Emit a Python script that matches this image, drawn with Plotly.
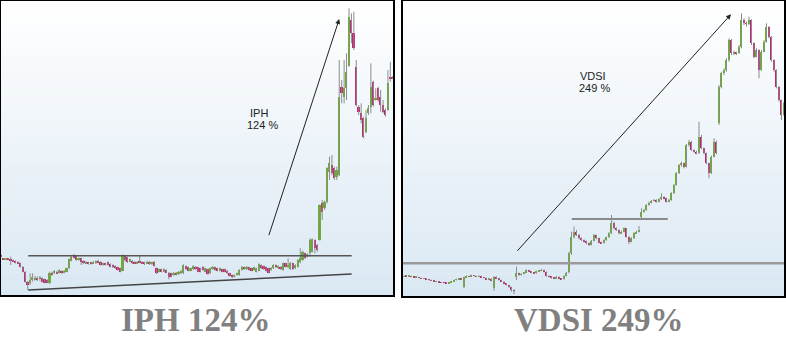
import plotly.graph_objects as go

# ---------------- IPH (left panel) ----------------
iph_open = [135,125,122,124,122,120,118,115,110,100,
            85,55,52,60,60,65,62,65,62,60,
            50,82,80,85,82,88,82,85,95,118,
            135,132,120,125,118,110,113,112,110,110,
            118,115,105,110,113,108,105,102,98,95,
            88,132,128,115,118,115,110,115,115,113,
            110,115,107,115,95,85,92,85,90,82,
            80,75,82,77,80,80,102,98,88,92,
            100,98,95,100,85,92,80,92,98,95,
            88,92,92,88,80,75,70,75,75,90,
            98,92,98,95,90,85,88,105,102,98,
            95,90,95,105,95,100,90,110,100,92,
            110,95,100,115,120,140,130,140,145,180,
            165,180,290,275,295,385,405,395,370,375,
            638,610,635,703,840,800,700,580,560,545,
            505,560,580,655,600,635,610,585,570,570,
            670,670]
iph_high = [136,126,126,125,130,121,119,116,112,102,
            87,57,80,80,72,70,72,68,64,62,
            85,85,90,88,92,90,90,97,124,132,
            138,134,127,127,120,117,115,114,117,119,
            121,117,112,112,116,110,107,104,100,97,
            137,135,130,124,120,117,117,135,117,115,
            118,117,115,117,97,94,94,94,92,84,
            82,84,84,87,90,107,104,100,97,104,
            102,100,97,102,97,94,97,102,100,97,
            97,94,94,90,82,77,77,82,92,102,
            100,102,100,97,100,97,110,107,104,100,
            97,99,107,107,104,102,112,112,125,114,
            112,107,122,155,148,142,140,185,184,182,
            168,287,300,298,398,430,435,400,400,720,
            660,720,740,875,860,865,720,585,590,550,
            570,585,710,658,635,640,630,600,575,690,
            715,672]
iph_low = [129,121,121,119,105,114,110,108,98,83,
           53,30,45,55,58,57,58,53,50,50,
           48,73,78,78,80,78,80,83,93,116,
           125,118,118,105,108,108,106,106,108,108,
           110,103,103,103,103,98,96,93,88,83,
           86,115,111,113,108,108,108,110,108,105,
           108,105,105,100,78,83,83,83,80,62,
           68,73,73,75,78,78,90,86,86,90,
           90,83,83,88,83,76,78,90,88,86,
           86,83,83,78,70,65,68,73,73,88,
           90,90,88,86,88,83,86,93,90,86,
           80,88,93,96,93,90,88,98,95,90,
           90,93,98,110,118,123,128,130,143,140,
           145,178,240,270,290,360,375,360,360,372,
           590,590,600,700,770,750,580,555,530,485,
           500,555,560,580,598,595,565,560,550,568,
           655,663]
iph_close = [130,122,125,120,118,115,112,110,100,85,
             55,45,60,70,65,60,68,55,52,52,
             82,75,88,80,90,80,88,95,122,130,
             127,120,125,115,110,115,108,108,115,117,
             112,105,110,105,105,100,98,95,90,85,
             135,120,113,122,110,110,115,112,110,107,
             115,107,113,102,80,92,85,92,82,70,
             70,82,75,85,88,105,92,88,95,102,
             92,85,85,90,95,78,95,100,90,88,
             95,85,85,80,72,68,75,80,90,98,
             92,100,90,88,98,95,108,95,92,88,
             82,97,105,98,102,92,110,100,105,112,
             92,105,120,125,145,125,138,180,182,155,
             150,285,265,295,395,410,380,365,390,610,
             622,635,685,850,800,755,585,565,540,490,
             545,575,640,585,605,600,585,565,555,650,
             665,665]

iph_resistance = 133
iph_support = [30, 78]
iph_lines_x = [11.2, 144.1]
iph_arrow = [109.9, 190, 139, 843]

# ---------------- VDSI (right panel) ----------------
vdsi_open = [70,72,71,72,70,68,69,66,64,65,
             62,60,58,55,56,53,52,51,50,52,
             56,60,62,64,40,68,72,70,74,72,
             70,72,68,66,62,64,35,70,65,60,
             55,50,45,38,30,70,80,75,78,82,
             90,86,82,80,86,88,90,85,72,70,
             66,65,70,64,62,72,85,140,190,205,
             195,185,180,176,170,165,178,195,185,172,
             170,180,188,200,230,215,210,200,205,215,
             190,175,185,200,205,250,265,270,285,292,
             298,300,295,302,310,305,295,300,320,345,
             380,405,410,400,465,475,450,445,440,490,
             455,440,410,380,430,475,530,640,680,690,
             720,780,740,742,740,760,840,830,828,840,
             770,730,750,690,745,775,820,790,720,690,
             640,600,555]
vdsi_high = [73,74,73,73,71,70,70,67,66,66,
             63,61,59,57,57,54,53,52,53,57,
             61,64,66,65,70,74,73,76,75,73,
             74,73,69,67,66,65,72,71,66,61,
             57,51,46,40,32,100,82,80,84,92,
             91,87,83,88,90,93,91,86,74,71,
             68,72,71,65,74,84,145,205,220,210,
             198,188,182,178,172,180,198,196,187,175,
             182,190,203,255,235,218,212,208,218,216,
             192,188,203,208,222,275,273,288,295,300,
             303,302,305,320,312,307,303,323,348,383,
             408,415,412,468,480,477,452,448,535,495,
             457,442,412,433,485,478,645,685,695,725,
             785,783,748,745,765,860,845,835,850,842,
             772,755,752,750,780,830,822,792,722,692,
             642,602,595]
vdsi_low = [69,70,70,69,67,67,65,63,63,61,
            59,57,54,54,52,51,50,49,49,51,
            55,59,61,60,36,67,69,69,71,69,
            69,67,65,61,61,56,28,64,59,54,
            49,44,37,25,18,60,73,74,77,81,
            84,80,78,79,85,87,83,70,68,64,
            63,64,62,60,61,71,80,135,185,192,
            182,177,173,167,162,164,176,182,170,168,
            169,178,186,198,212,207,197,198,203,187,
            168,173,183,198,203,245,262,268,283,290,
            296,292,293,300,302,292,293,298,318,343,
            378,400,395,398,460,447,442,437,438,452,
            437,407,365,378,428,437,525,635,675,685,
            715,735,735,735,738,755,825,820,825,765,
            725,728,665,688,743,772,785,715,685,635,
            595,540,553]
vdsi_close = [72,71,72,70,68,69,66,64,65,62,
              60,58,55,56,53,52,51,50,52,56,
              60,62,64,62,68,72,70,74,72,70,
              72,68,66,62,64,58,70,65,60,55,
              50,45,38,30,28,80,75,78,82,90,
              86,82,80,86,88,90,85,72,70,66,
              65,70,64,62,72,82,140,190,205,195,
              185,180,176,170,165,178,195,185,172,170,
              180,188,200,230,215,210,200,205,215,190,
              175,185,200,205,210,265,270,285,292,298,
              300,295,302,310,305,295,300,320,345,380,
              405,410,400,465,475,450,445,440,490,455,
              440,410,380,430,475,440,640,680,690,720,
              780,740,742,740,760,840,830,828,840,770,
              730,750,690,745,775,820,790,720,690,640,
              600,555,590]

vdsi_base_line = 110
vdsi_box_line = 243
vdsi_box_x = [67.1, 105.5]
vdsi_arrow = [44.8, 143, 130.8, 857]

titles = ["IPH 124%", "VDSI 249%"]
labels = [("IPH", "124 %"), ("VDSI", "249 %")]

GREEN = "#62b61c"
PINK = "#c81f72"
WICK = "#8c8c8c"


def add_candles(fig, o, h, l, c, xa, ya):
    idx = list(range(len(o)))
    wx, wy = [], []
    for i in idx:
        wx += [i, i, None]
        wy += [l[i], h[i], None]
    fig.add_trace(go.Scatter(x=wx, y=wy, mode="lines",
                             line=dict(color=WICK, width=1),
                             xaxis=xa, yaxis=ya, hoverinfo="skip"))
    base = [min(a, b) for a, b in zip(o, c)]
    hgt = [max(abs(b - a), 2) for a, b in zip(o, c)]
    col = [GREEN if b >= a else PINK for a, b in zip(o, c)]
    fig.add_trace(go.Bar(x=idx, y=hgt, base=base, width=0.72,
                         marker=dict(color=col, line=dict(width=0)),
                         xaxis=xa, yaxis=ya, hoverinfo="skip"))


fig = go.Figure()
add_candles(fig, iph_open, iph_high, iph_low, iph_close, "x", "y")
add_candles(fig, vdsi_open, vdsi_high, vdsi_low, vdsi_close, "x2", "y2")

W, H = 786, 341
shapes = []
# gradient backgrounds
n = 40
top = (255, 255, 255)
bot = (218, 232, 243)
for xr, yr in (("x domain", "y domain"), ("x2 domain", "y2 domain")):
    for k in range(n):
        t = 1 - (k + 0.5) / n
        col = tuple(int(round(top[j] + (bot[j] - top[j]) * t)) for j in range(3))
        shapes.append(dict(type="rect", xref=xr, yref=yr, x0=0, x1=1,
                           y0=k / n, y1=(k + 1) / n + 0.002, layer="below",
                           fillcolor="rgb(%d,%d,%d)" % col, line=dict(width=0)))

# trend lines
shapes.append(dict(type="line", xref="x", yref="y", x0=iph_lines_x[0], x1=iph_lines_x[1],
                   y0=iph_resistance, y1=iph_resistance, line=dict(color="#555555", width=1.5)))
shapes.append(dict(type="line", xref="x", yref="y", x0=iph_lines_x[0], x1=iph_lines_x[1],
                   y0=iph_support[0], y1=iph_support[1], line=dict(color="#444444", width=1.5)))
shapes.append(dict(type="line", xref="x2 domain", yref="y2", x0=0, x1=1,
                   y0=vdsi_base_line, y1=vdsi_base_line, line=dict(color="#9a9a9a", width=2.5)))
shapes.append(dict(type="line", xref="x2", yref="y2", x0=vdsi_box_x[0], x1=vdsi_box_x[1],
                   y0=vdsi_box_line, y1=vdsi_box_line, line=dict(color="#8a8a8a", width=2)))
# borders
for xr, yr in (("x domain", "y domain"), ("x2 domain", "y2 domain")):
    shapes.append(dict(type="rect", xref=xr, yref=yr, x0=0, x1=1, y0=0, y1=1,
                       line=dict(color="black", width=2), fillcolor="rgba(0,0,0,0)", layer="above"))

ann = []
for (ax0, ay0, x1, y1), xr, yr in ((iph_arrow, "x", "y"), (vdsi_arrow, "x2", "y2")):
    ann.append(dict(x=x1, y=y1, ax=ax0, ay=ay0, xref=xr, yref=yr, axref=xr, ayref=yr,
                    text="", showarrow=True, arrowhead=2, arrowsize=1, arrowwidth=1,
                    arrowcolor="#222222", standoff=0, startstandoff=0))

lab_font = dict(family="Liberation Sans, Arial, sans-serif", size=11, color="#222222")
ann.append(dict(x=106, y=561, xref="x", yref="y", text=labels[0][0], showarrow=False, font=lab_font))
ann.append(dict(x=107.3, y=525, xref="x", yref="y", text=labels[0][1], showarrow=False, font=lab_font))
ann.append(dict(x=75.7, y=672, xref="x2", yref="y2", text=labels[1][0], showarrow=False, font=lab_font))
ann.append(dict(x=76.1, y=635, xref="x2", yref="y2", text=labels[1][1], showarrow=False, font=lab_font))

title_font = dict(family="Liberation Serif, Times New Roman, serif", size=33, color="#808080")
ann.append(dict(x=195 / W, y=(H - 320) / H, xref="paper", yref="paper", text="<b>%s</b>" % titles[0],
                showarrow=False, font=title_font, xanchor="center", yanchor="middle"))
ann.append(dict(x=599 / W, y=(H - 320) / H, xref="paper", yref="paper", text="<b>%s</b>" % titles[1],
                showarrow=False, font=title_font, xanchor="center", yanchor="middle"))

ax_common = dict(visible=False, showgrid=False, zeroline=False, fixedrange=True)
fig.update_layout(
    width=W, height=H, margin=dict(l=0, r=0, t=0, b=0, pad=0),
    paper_bgcolor="white", plot_bgcolor="rgba(0,0,0,0)",
    showlegend=False, bargap=0, barmode="overlay",
    xaxis=dict(domain=[0, 394 / W], range=[-0.4, 161.5], anchor="y", **ax_common),
    yaxis=dict(domain=[1 - 296 / H, 1], range=[12, 900], anchor="x", **ax_common),
    xaxis2=dict(domain=[402 / W, 785 / W], range=[-0.8, 152.4], anchor="y2", **ax_common),
    yaxis2=dict(domain=[1 - 297 / H, 1], range=[9, 900], anchor="x2", **ax_common),
    shapes=shapes, annotations=ann,
)

fig.write_html("out.html")
